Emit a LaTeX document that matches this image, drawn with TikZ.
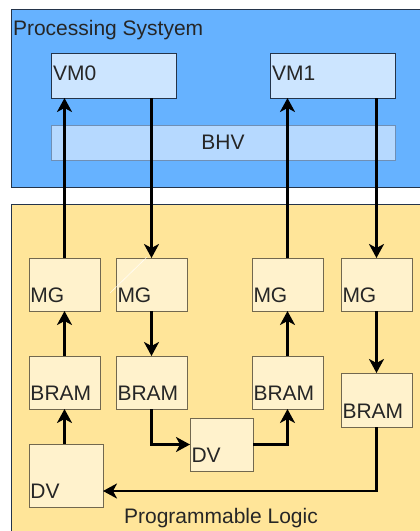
\documentclass[tikz,border=0pt]{standalone}
\usepackage{fontspec}
\setmainfont{Liberation Sans}
\usetikzlibrary{arrows.meta}
\definecolor{psblue}{HTML}{66B2FF}
\definecolor{psborder}{HTML}{24344A}
\definecolor{vmfill}{HTML}{CCE5FF}
\definecolor{bhvfill}{HTML}{B6D9FF}
\definecolor{bhvborder}{HTML}{6F8FB5}
\definecolor{plyellow}{HTML}{FFE599}
\definecolor{boxfill}{HTML}{FFF2CC}
\definecolor{boxborder}{HTML}{72684F}
\definecolor{txt}{HTML}{262626}
\tikzset{
  every node/.style={inner sep=0pt, outer sep=0pt},
  lbl/.style={font=\fontsize{21}{24}\selectfont, text=txt},
  vmbox/.style={draw=psborder, line width=0.9pt, fill=vmfill, anchor=north west},
  ybox/.style={draw=boxborder, line width=0.9pt, fill=boxfill, anchor=north west},
  conn/.style={line width=2.8pt, draw=black, -{Stealth[length=14pt, width=15pt, inset=4pt]}},
}
\begin{document}
\begin{tikzpicture}[x=1pt, y=1pt]
\useasboundingbox (0,0) rectangle (420,-531);
% containers
\node[draw=psborder, line width=0.9pt, fill=psblue, minimum width=420, minimum height=178, anchor=north west] (ps) at (11,-9) {};
\node[draw=psborder, line width=0.9pt, fill=plyellow, minimum width=420, minimum height=340, anchor=north west] (pl) at (11,-204) {};
\node[lbl, anchor=base west] (pst) at (13,-35) {Processing Systyem};
\node[lbl, anchor=base] (plt) at (221,-523) {Programmable Logic};
% processing system boxes
\node[vmbox, minimum width=125, minimum height=45] (vm0) at (51,-53) {};
\node[vmbox, minimum width=125, minimum height=45] (vm1) at (270,-53) {};
\node[lbl, anchor=base west] (vm0t) at (53,-80) {VM0};
\node[lbl, anchor=base west] (vm1t) at (272,-80) {VM1};
\node[draw=bhvborder, line width=0.8pt, fill=bhvfill, minimum width=344, minimum height=35, anchor=north west] (bhv) at (51,-125) {};
\node[lbl, anchor=center] (bhvt) at (bhv.center) {\vphantom{B}BHV};
% programmable logic boxes
\node[ybox, minimum width=71, minimum height=53] (mg1) at (29,-258) {};
\node[ybox, minimum width=71, minimum height=53] (mg2) at (116,-258) {};
\node[ybox, minimum width=71, minimum height=53] (mg3) at (252,-258) {};
\node[ybox, minimum width=71, minimum height=53] (mg4) at (341,-258) {};
\node[ybox, minimum width=71, minimum height=53] (br1) at (29,-356) {};
\node[ybox, minimum width=71, minimum height=53] (br2) at (116,-356) {};
\node[ybox, minimum width=71, minimum height=53] (br3) at (252,-356) {};
\node[ybox, minimum width=71, minimum height=54] (br4) at (341,-373) {};
\node[ybox, minimum width=63, minimum height=53] (dvm) at (190,-418) {};
\node[ybox, minimum width=74, minimum height=63] (dvl) at (29,-444) {};
\foreach \b/\t in {mg1/MG, mg2/MG, mg3/MG, mg4/MG, br1/BRAM, br2/BRAM, br3/BRAM, br4/BRAM, dvm/DV, dvl/DV}{
  \node[lbl, anchor=base west] (\b t) at ([shift={(1.5,9)}]\b.south west) {\t};
}
% stray light line
\draw[white, opacity=0.8, line width=0.6pt] (110,-293) -- (147,-257);
% connectors
\draw[conn] (mg1.north) -- (mg1.north |- vm0.south);
\draw[conn] (mg2.north |- vm0.south) -- (mg2.north);
\draw[conn] (mg3.north) -- (mg3.north |- vm1.south);
\draw[conn] (mg4.north |- vm1.south) -- (mg4.north);
\draw[conn] (br1.north) -- (mg1.south);
\draw[conn] (br1.south |- dvl.north) -- (br1.south);
\draw[conn] (mg2.south) -- (br2.north);
\draw[conn] (br3.north) -- (mg3.south);
\draw[conn] (mg4.south) -- (mg4.south |- br4.north);
\draw[conn] (br2.south) |- (dvm.west);
\draw[conn] (dvm.east) -| (br3.south);
\draw[conn] (mg4.south |- br4.south) |- ([yshift=16]dvl.south east);
\end{tikzpicture}
\end{document}
